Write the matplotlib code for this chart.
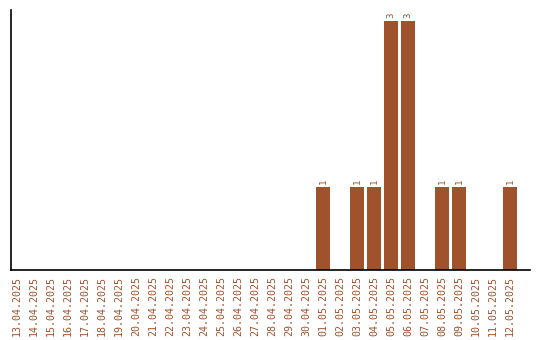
import matplotlib
matplotlib.use("Agg")
import matplotlib.pyplot as plt

dates = ["13.04.2025", "14.04.2025", "15.04.2025", "16.04.2025", "17.04.2025",
         "18.04.2025", "19.04.2025", "20.04.2025", "21.04.2025", "22.04.2025",
         "23.04.2025", "24.04.2025", "25.04.2025", "26.04.2025", "27.04.2025",
         "28.04.2025", "29.04.2025", "30.04.2025", "01.05.2025", "02.05.2025",
         "03.05.2025", "04.05.2025", "05.05.2025", "06.05.2025", "07.05.2025",
         "08.05.2025", "09.05.2025", "10.05.2025", "11.05.2025", "12.05.2025"]
values = [0, 0, 0, 0, 0, 0, 0, 0, 0, 0,
          0, 0, 0, 0, 0, 0, 0, 0, 1, 0,
          1, 1, 3, 3, 0, 1, 1, 0, 0, 1]

color = "#A0522D"
fig = plt.figure(figsize=(5.4, 3.4), dpi=100)
ax = fig.add_axes([11/540, 70/340, 519/540, 260/340])
x = list(range(len(dates)))
bars = ax.bar(x, values, width=0.82, color=color)
for xi, v in zip(x, values):
    if v > 0:
        ax.text(xi, v + 0.03, str(v), rotation=90, ha="center", va="bottom",
                color=color, fontsize=6.5, family="DejaVu Sans Mono")
ax.set_xlim(-0.35, 30.18)
ax.set_ylim(0, 3.13)
ax.set_xticks(x)
ax.set_xticklabels(dates, rotation=90, color=color, fontsize=7.2, family="DejaVu Sans Mono")
ax.tick_params(axis="x", length=0, pad=4)
ax.set_yticks([])
for s in ["top", "right"]:
    ax.spines[s].set_visible(False)
for s in ["left", "bottom"]:
    ax.spines[s].set_linewidth(1.2)
fig.savefig("out.png", dpi=100)
